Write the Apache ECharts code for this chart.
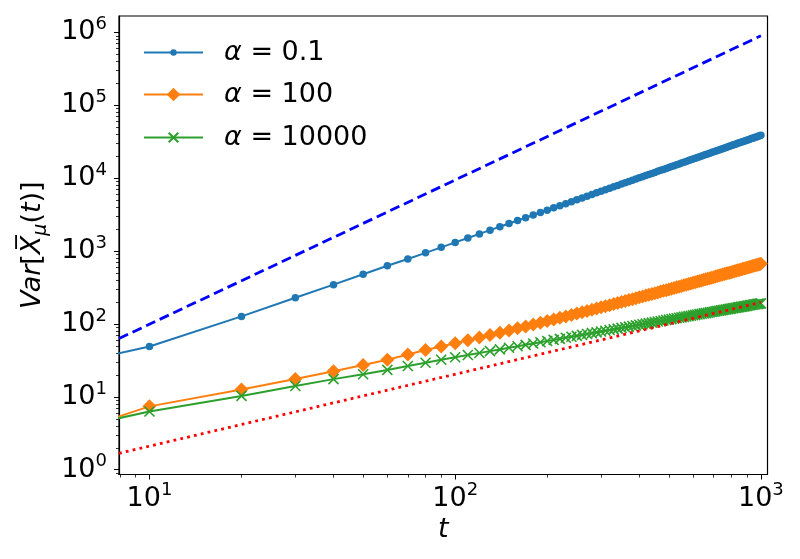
<!DOCTYPE html>
<html><head><meta charset="utf-8">
<script src="https://cdn.jsdelivr.net/npm/echarts@6/dist/echarts.min.js"></script>
<style>html,body{margin:0;padding:0;background:#fff}#c{width:800px;height:559px}</style>
</head><body><div id="c"></div>
<script>
const tValues = [1,10,20,30,40,50,60,70,80,90,100,110,120,130,140,150,160,170,180,190,200,210,220,230,240,250,260,270,280,290,300,310,320,330,340,350,360,370,380,390,400,410,420,430,440,450,460,470,480,490,500,510,520,530,540,550,560,570,580,590,600,610,620,630,640,650,660,670,680,690,700,710,720,730,740,750,760,770,780,790,800,810,820,830,840,850,860,870,880,890,900,910,920,930,940,950,960,970,980,990,1000];
const blueValues = [5.9,49,127,229,346,480,628,778,945,1125,1316,1514,1721,1935,2158,2389,2626,2871,3122,3381,3646,3917,4194,4477,4766,5061,5362,5667,5978,6295,6616,6943,7275,7612,7953,8299,8650,9005,9365,9731,10100,10473,10850,11232,11619,12009,12403,12801,13204,13610,14021,14435,14852,15274,15700,16129,16563,16999,17440,17882,18329,18781,19235,19691,20153,20616,21086,21557,22032,22509,22992,23475,23963,24454,24949,25446,25946,26449,26956,27465,27978,28491,29011,29532,30056,30584,31114,31647,32183,32721,33262,33808,34353,34903,35456,36014,36572,37134,37698,38265,38835];
const orangeValues = [0.31,7.4,12.6,17.6,22.5,27.3,32.3,38.0,43.8,49.0,54.3,59.7,65.1,70.5,75.9,81.4,87.0,92.6,98.2,103.9,109.6,115.4,121.2,127.0,132.9,138.8,144.8,150.8,156.8,162.8,168.9,175.1,181.2,187.4,193.7,199.9,206.3,212.6,219.0,225.4,231.8,238.3,244.8,251.3,257.8,264.5,271.1,277.8,284.5,291.2,297.9,304.7,311.5,318.4,325.2,332.1,339.0,346.0,353.0,360.0,367.0,374.1,381.2,388.3,395.5,402.6,409.8,417.1,424.3,431.6,438.9,446.2,453.6,461.0,468.4,475.9,483.3,490.8,498.3,505.9,513.4,521.0,528.6,536.3,543.9,551.6,559.3,567.1,574.8,582.6,590.4,598.2,606.1,614.0,621.9,629.8,637.7,645.7,653.7,661.7,669.9];
const greenValues = [0.76,6.3,10.3,14.1,17.5,20.4,23.4,26.5,29.4,32.3,34.9,37.45,39.94,42.38,44.77,47.11,49.41,51.68,53.92,56.12,58.29,60.43,62.55,64.64,66.71,68.76,70.78,72.78,74.77,76.73,78.69,80.62,82.53,84.43,86.32,88.19,90.05,91.90,93.73,95.55,97.35,99.15,100.93,102.70,104.47,106.22,107.96,109.69,111.41,113.13,114.83,116.53,118.21,119.89,121.56,123.22,124.88,126.53,128.16,129.79,131.42,133.04,134.65,136.25,137.84,139.44,141.02,142.60,144.17,145.73,147.30,148.85,150.40,151.94,153.48,155.01,156.54,158.06,159.57,161.09,162.60,164.10,165.59,167.08,168.57,170.06,171.53,173.01,174.48,175.94,177.40,178.86,180.31,181.76,183.20,184.64,186.08,187.51,188.93,190.36,191.78];
const dashedX = [7.95, 1000];
const dashedY = [63, 900000];
const dottedX = [7.95, 1000];
const dottedY = [1.68, 198];
const seriesNames = ['α = 0.1', 'α = 100', 'α = 10000'];
const xMajorTicks = [10, 100, 1000];
const xMinorTicks = [8,9,20,30,40,50,60,70,80,90,200,300,400,500,600,700,800,900];
const yMajorTicks = [1,10,100,1000,10000,100000,1000000];
const yMinorTicks = [0.9,2,3,4,5,6,7,8,9,20,30,40,50,60,70,80,90,200,300,400,500,600,700,800,900,2000,3000,4000,5000,6000,7000,8000,9000,20000,30000,40000,50000,60000,70000,80000,90000,200000,300000,400000,500000,600000,700000,800000,900000];

const FONT = 'DejaVu Sans';
const X_MIN = 7.95, X_MAX = 1051, Y_MIN = 0.86, Y_MAX = 1.68e6;

function pairs(xs, ys) { return xs.map((x, i) => [x, ys[i]]); }
function powLabel(v) { const e = Math.round(Math.log10(v)); return '{b|10}{s|' + e + '}'; }
const tickRich = {
  b: { fontSize: 27, lineHeight: 34, fontFamily: FONT, color: '#000', verticalAlign: 'middle' },
  s: { fontSize: 18, lineHeight: 14, fontFamily: FONT, color: '#000', verticalAlign: 'top' }
};
const legendRich = {
  a: { fontSize: 27, lineHeight: 32, fontFamily: FONT, fontStyle: 'italic', color: '#000', padding: [0, 0, 0, 16] },
  n: { fontSize: 27, lineHeight: 32, fontFamily: FONT, color: '#000' }
};
function legendFmt(name) { return '{a|α}{n|' + name.slice(1) + '}'; }

const chart = echarts.init(document.getElementById('c'), null, { renderer: 'canvas' });
const xCommon = { type: 'log', logBase: 10, min: X_MIN, max: X_MAX, gridIndex: 0, position: 'bottom', splitLine: { show: false } };
const yCommon = { type: 'log', logBase: 10, min: Y_MIN, max: Y_MAX, gridIndex: 0, position: 'left', splitLine: { show: false } };

const option = {
  animation: false,
  backgroundColor: '#fff',
  grid: { left: 119, right: 32.5, top: 16, bottom: 84.5, show: true, borderColor: '#000', borderWidth: 1.2, outerBoundsMode: 'none', containLabel: false },
  xAxis: [
    Object.assign({}, xCommon, {
      name: 't', nameLocation: 'middle', nameGap: 42,
      nameTextStyle: { fontSize: 27, fontFamily: FONT, fontStyle: 'italic', color: '#000' },
      axisLine: { show: true, onZero: false, lineStyle: { color: '#000', width: 1.2 } },
      axisTick: { show: true, length: 5, customValues: xMajorTicks, lineStyle: { color: '#000', width: 1 } },
      axisLabel: { show: true, margin: 7, customValues: xMajorTicks, formatter: powLabel, rich: tickRich }
    }),
    Object.assign({}, xCommon, {
      axisLine: { show: false, onZero: false },
      axisTick: { show: true, length: 3, customValues: xMinorTicks, lineStyle: { color: '#000', width: 0.8 } },
      axisLabel: { show: false }
    })
  ],
  yAxis: [
    Object.assign({}, yCommon, {
      name: '{i|Var}{u|[}{i|X\u0305}{m|μ}{u|(}{i|t}{u|)]}', nameLocation: 'middle', nameGap: 68,
      nameTextStyle: { rich: {
        i: { fontSize: 27, lineHeight: 34, fontFamily: FONT, fontStyle: 'italic', color: '#000', verticalAlign: 'middle' },
        u: { fontSize: 27, lineHeight: 34, fontFamily: FONT, color: '#000', verticalAlign: 'middle' },
        m: { fontSize: 19, lineHeight: 19, fontFamily: FONT, fontStyle: 'italic', color: '#000', verticalAlign: 'bottom' }
      } },
      axisLine: { show: true, onZero: false, lineStyle: { color: '#000', width: 1.2 } },
      axisTick: { show: true, length: 5, customValues: yMajorTicks, lineStyle: { color: '#000', width: 1 } },
      axisLabel: { show: true, margin: 12, customValues: yMajorTicks, formatter: powLabel, rich: tickRich }
    }),
    Object.assign({}, yCommon, {
      axisLine: { show: false, onZero: false },
      axisTick: { show: true, length: 3, customValues: yMinorTicks, lineStyle: { color: '#000', width: 0.8 } },
      axisLabel: { show: false }
    })
  ],
  legend: [
    { data: [seriesNames[0]], left: 143, top: 39, padding: 0, itemWidth: 59, itemHeight: 8, formatter: legendFmt, textStyle: { rich: legendRich } },
    { data: [seriesNames[1]], left: 143, top: 81, padding: 0, itemWidth: 59, itemHeight: 17, formatter: legendFmt, textStyle: { rich: legendRich } },
    { data: [seriesNames[2]], left: 143, top: 124, padding: 0, itemWidth: 59, itemHeight: 12, formatter: legendFmt, textStyle: { rich: legendRich } }
  ],
  series: [
    { name: seriesNames[0], type: 'line', xAxisIndex: 0, yAxisIndex: 0, data: pairs(tValues, blueValues), clip: true,
      symbol: 'circle', symbolSize: 7.5, lineStyle: { color: '#1f77b4', width: 2 }, itemStyle: { color: '#1f77b4' }, z: 3 },
    { name: seriesNames[1], type: 'line', xAxisIndex: 0, yAxisIndex: 0, data: pairs(tValues, orangeValues), clip: true,
      symbol: 'diamond', symbolSize: 14, lineStyle: { color: '#ff7f0e', width: 2 }, itemStyle: { color: '#ff7f0e' }, z: 4 },
    { name: seriesNames[2], type: 'line', xAxisIndex: 0, yAxisIndex: 0, data: pairs(tValues, greenValues), clip: true,
      symbol: 'path://M0,0L10,10M10,0L0,10', symbolSize: 10, lineStyle: { color: '#2ca02c', width: 2 },
      itemStyle: { color: '#2ca02c', borderColor: '#2ca02c', borderWidth: 1.6 }, z: 5 },
    { name: 'dashed', type: 'line', xAxisIndex: 0, yAxisIndex: 0, data: pairs(dashedX, dashedY), clip: true, symbol: 'none',
      lineStyle: { color: '#0000ff', width: 2.8, type: [10, 5], cap: 'butt' }, z: 6 },
    { name: 'dotted', type: 'line', xAxisIndex: 0, yAxisIndex: 0, data: pairs(dottedX, dottedY), clip: true, symbol: 'none',
      lineStyle: { color: '#ff0000', width: 2.8, type: [2.8, 4.2], cap: 'butt' }, z: 7 }
  ]
};
chart.setOption(option);
</script>
</body></html>
